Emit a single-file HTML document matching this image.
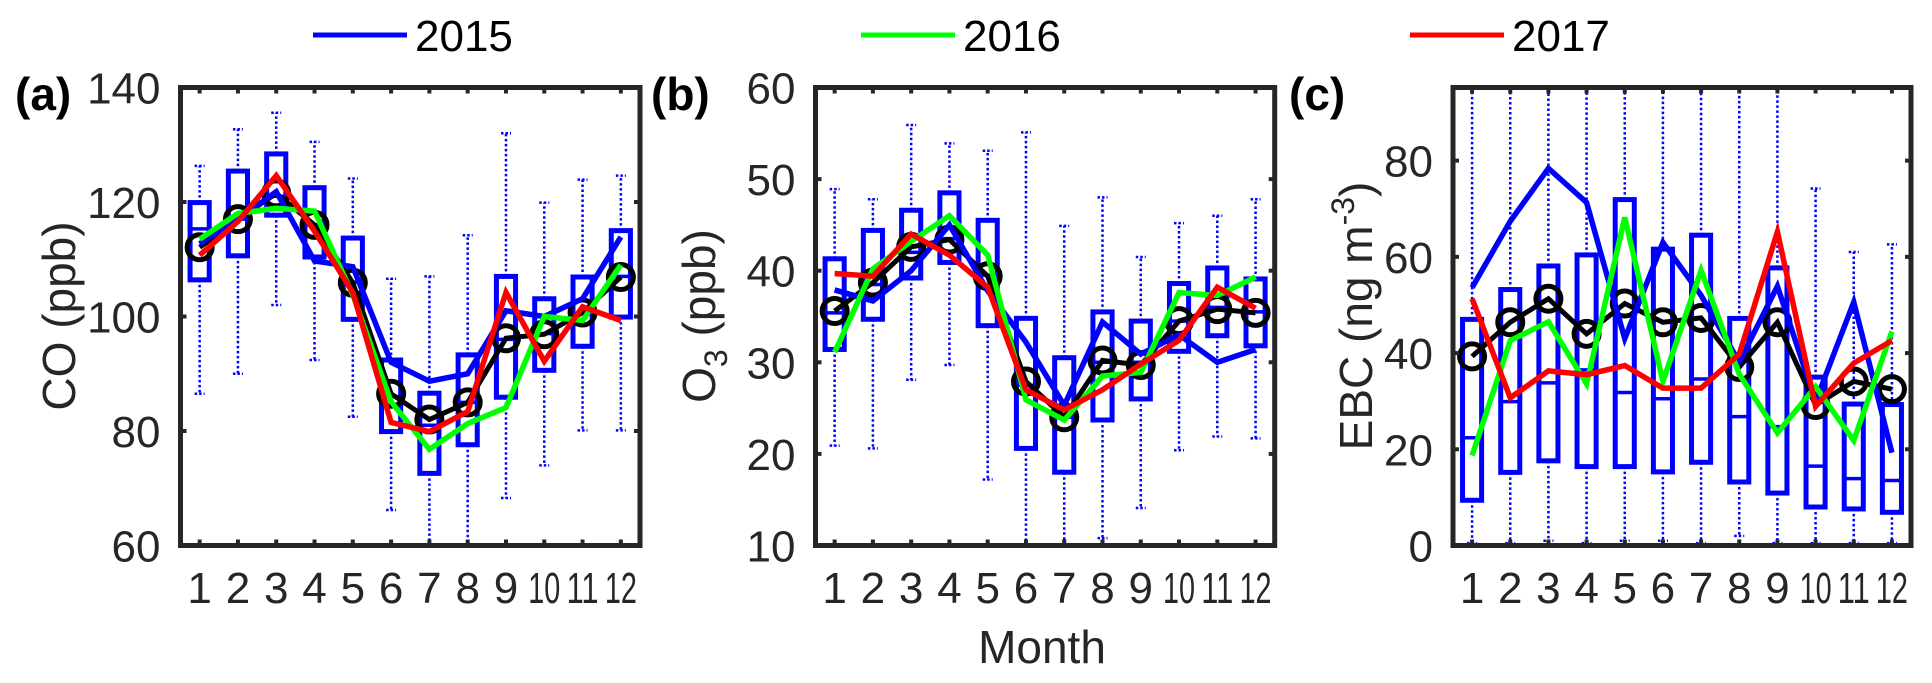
<!DOCTYPE html>
<html><head><meta charset="utf-8"><style>
body{margin:0;background:#fff}
svg{display:block;font-family:"Liberation Sans",Arial,sans-serif}
</style></head><body>
<svg id="chart" width="1932" height="683" viewBox="0 0 1932 683" xmlns="http://www.w3.org/2000/svg"></svg>
<script>
const months = [1,2,3,4,5,6,7,8,9,10,11,12];
const legendYears = ['2015','2016','2017'];
// Panel a: CO
const coBoxTop = [119.9,125.4,128.4,122.5,113.7,92.4,86.6,93.3,107,103.1,106.9,115];
const coBoxBot = [106.4,110.6,117.7,110.4,99.5,79.9,72.6,77.6,85.9,90.6,94.8,99.9];
const coMed = [115.3,117,121,116,106,86,81,85,96,97,100.5,107];
const coWhiskHi = [126.3,132.7,135.6,130.5,124.1,106.6,107,114.2,132,119.9,123.9,124.6];
const coWhiskLo = [86.5,90,102,92.4,82.5,66.2,60,60,68.3,74,80.1,80.1];
const coMean = [112.1,117,121.5,116,105.9,86.5,82,85,96.2,96.9,100.7,106.9];
const co2015 = [112.7,117,121.8,109.7,108.7,92,88.7,90,101,100,103.1,113.9];
const co2016 = [113.5,118,118.9,118.4,103.8,85.1,76.8,81.3,84.1,100,99.3,109];
const co2017 = [110.7,116.6,124.6,114.9,104.2,81.5,79.9,83.4,104.2,92.2,101.7,99.3];
const coTicks = [60,80,100,120,140];
// Panel b: O3
const o3BoxTop = [41.3,44.4,46.6,48.5,45.5,34.8,30.5,35.5,34.5,38.6,40.3,39.1];
const o3BoxBot = [31.4,34.7,39.2,40.9,34,20.6,18,23.7,26,31.2,32.9,31.8];
const o3Med = [35.4,38.5,42,43.5,39.5,27.5,24,30,30,34.5,36,35.5];
const o3WhiskHi = [48.9,47.8,55.9,53.9,53.1,55.1,44.9,48,41.5,45.2,46,47.8];
const o3WhiskLo = [20.9,20.6,28.1,29.7,17.2,10,10,10.8,14.1,20.4,21.9,21.7];
const o3Mean = [35.6,38.7,42.6,43.4,39.4,27.9,24,30.2,29.7,34.5,35.8,35.4];
const o32015 = [37.9,36.7,40,45,37.8,32.2,25.3,34.4,30.9,33,30,31.4];
const o32016 = [31.1,40.2,43.2,46,41.7,25.9,23.7,28.5,28.9,37.6,37.3,39.3];
const o32017 = [39.7,39.4,44,41.7,38.2,27,24.8,27,29.8,32.4,38.2,35.9];
const o3Ticks = [10,20,30,40,50,60];
// Panel c: EBC
const ebcBoxTop = [47,53.2,58.1,60.4,71.9,61.6,64.5,47.2,57.7,35,29.4,29.3];
const ebcBoxBot = [9.4,15.2,17.6,16.4,16.4,15.3,17.3,13.2,10.9,8,7.6,6.9];
const ebcMed = [22.4,29.9,33.8,36.5,31.8,30.5,34.6,26.8,24.7,16.5,13.9,13.5];
const ebcWhiskHi = [100,100,100,100,100,100,100,100,100,74.2,61,62.6];
const ebcWhiskLo = [0.5,0.5,1,0.5,1,1,0.5,2,0.5,0.5,0.5,0.5];
const ebcMean = [39.3,46.4,51.3,44,50.3,46.4,47.3,37.1,46.4,29.2,34.1,32.5];
const ebc2015 = [53.6,67.4,78.4,71.3,43,63,52,38.1,53.9,29.9,50.6,19.3];
const ebc2016 = [18.7,42.6,46.5,33.6,68.2,34.1,57.2,35.6,23.4,33,21.8,44.5];
const ebc2017 = [51.3,30.7,36.3,35.5,37.4,32.7,32.7,39.8,65.2,28.9,37.9,42.6];
const ebcTicks = [0,20,40,60,80];

const NS='http://www.w3.org/2000/svg';
const svg=document.getElementById('chart');
function mk(tag,attrs,parent){const e=document.createElementNS(NS,tag);for(const k in attrs)e.setAttribute(k,attrs[k]);(parent||svg).appendChild(e);return e;}
const AX='#262626', BLUE='#0000ff', GREEN='#00ff00', RED='#ff0000';
const TOP=87.5, BOT=545.5;

function panel(id,L,R,ymin,ymax,ticks,bt,bb,md,wh,wl,mean,s15,s16,s17,ylabelX,ylabel,plabel,plabelX){
  const g=mk('g',{});
  
  
  const x=m=>L+(m-0.5)*(R-L)/12;
  const y=v=>BOT-(v-ymin)*(BOT-TOP)/(ymax-ymin);
  const cp=mk('clipPath',{id:'clip'+id},g);
  mk('rect',{x:L,y:TOP,width:R-L,height:BOT-TOP},cp);
  const plot=mk('g',{'clip-path':'url(#clip'+id+')'},g);
  const bw=(R-L)/12*0.5;
  months.forEach((m,i)=>{
    const cx=x(m);
    const w1=mk('line',{x1:cx,x2:cx,y1:y(bt[i]),y2:y(wh[i]),stroke:BLUE,'stroke-width':2.5,'stroke-dasharray':'2.5 2.5'},plot);
    
    
    const w2=mk('line',{x1:cx,x2:cx,y1:y(bb[i]),y2:y(wl[i]),stroke:BLUE,'stroke-width':2.5,'stroke-dasharray':'2.5 2.5'},plot);
    
    
    [wh[i],wl[i]].forEach(v=>{mk('line',{x1:cx-5,x2:cx+5,y1:y(v),y2:y(v),stroke:BLUE,'stroke-width':2.5,'stroke-dasharray':'2.5 2'},plot);});
    const b=mk('rect',{x:cx-bw/2,y:y(bt[i]),width:bw,height:y(bb[i])-y(bt[i]),fill:'none',stroke:BLUE,'stroke-width':5},plot);
    
    
    mk('line',{x1:cx-bw/2,x2:cx+bw/2,y1:y(md[i]),y2:y(md[i]),stroke:BLUE,'stroke-width':3.5},plot);
  });
  const pts=arr=>arr.map((v,i)=>x(months[i])+','+y(v)).join(' ');
  const ml=mk('polyline',{points:pts(mean),fill:'none',stroke:'#000','stroke-width':5},plot);
  
  
  mean.forEach((v,i)=>{const c=mk('circle',{cx:x(months[i]),cy:y(v),r:12.5,fill:'none',stroke:'#000','stroke-width':5},plot);
    
    });
  [[s15,BLUE,'2015'],[s16,GREEN,'2016'],[s17,RED,'2017']].forEach(([a,c,n])=>{
    const p=mk('polyline',{points:pts(a),fill:'none',stroke:c,'stroke-width':5.5,'stroke-linejoin':'miter'},plot);
    
    
  });
  const fr=mk('rect',{x:L,y:TOP,width:R-L,height:BOT-TOP,fill:'none',stroke:AX,'stroke-width':5},g);
  
  
  months.forEach(m=>{
    mk('line',{x1:x(m),x2:x(m),y1:BOT,y2:BOT-6,stroke:AX,'stroke-width':4},g);
    mk('line',{x1:x(m),x2:x(m),y1:TOP,y2:TOP+6,stroke:AX,'stroke-width':4},g);
    const a={x:x(m),y:603,'font-size':44,fill:AX,'text-anchor':'middle'};
    if(m>=10){a.textLength=32;a.lengthAdjust='spacingAndGlyphs';}
    const t=mk('text',a,g);
    t.textContent=m;
    
    
  });
  ticks.forEach(v=>{
    mk('line',{x1:L,x2:L+6,y1:y(v),y2:y(v),stroke:AX,'stroke-width':4},g);
    mk('line',{x1:R,x2:R-6,y1:y(v),y2:y(v),stroke:AX,'stroke-width':4},g);
    const t=mk('text',{x:L-20,y:y(v)+16,'font-size':44,fill:AX,'text-anchor':'end'},g);
    t.textContent=v;
    
    
  });
  const yl=mk('text',{x:0,y:0,'font-size':46,fill:AX,'text-anchor':'middle',transform:'translate('+(ylabelX+16)+',316) rotate(-90)'},g);
  yl.innerHTML=ylabel;
  
  
  const pl=mk('text',{x:plabelX,y:110,'font-size':46,'font-weight':'bold',fill:'#000'},g);
  pl.textContent=plabel;
  
  
}
panel('a',180.5,640,60,140,coTicks,coBoxTop,coBoxBot,coMed,coWhiskHi,coWhiskLo,coMean,co2015,co2016,co2017,59,'CO (ppb)','(a)',15);
panel('b',815.5,1274.7,10,60,o3Ticks,o3BoxTop,o3BoxBot,o3Med,o3WhiskHi,o3WhiskLo,o3Mean,o32015,o32016,o32017,699,'O<tspan font-size="32" dy="12">3</tspan><tspan dy="-12"> (ppb)</tspan>','(b)',651);
panel('c',1453,1911,0,95.2,ebcTicks,ebcBoxTop,ebcBoxBot,ebcMed,ebcWhiskHi,ebcWhiskLo,ebcMean,ebc2015,ebc2016,ebc2017,1356,'EBC (ng m<tspan font-size="32" dy="-18">-3</tspan><tspan dy="18">)</tspan>','(c)',1289);

const ml=mk('text',{x:1042,y:663,'font-size':46,fill:AX,'text-anchor':'middle'});
ml.textContent='Month';



const legX=[[313,407],[861,955],[1410,1504]];
const legC=[BLUE,GREEN,RED];
legendYears.forEach((yr,i)=>{
  const g=mk('g',{});
  
  
  mk('line',{x1:legX[i][0],x2:legX[i][1],y1:35,y2:35,stroke:legC[i],'stroke-width':5},g);
  const t=mk('text',{x:legX[i][1]+8,y:51,'font-size':44,fill:'#000'},g);
  t.textContent=yr;
});
</script>
</body></html>
